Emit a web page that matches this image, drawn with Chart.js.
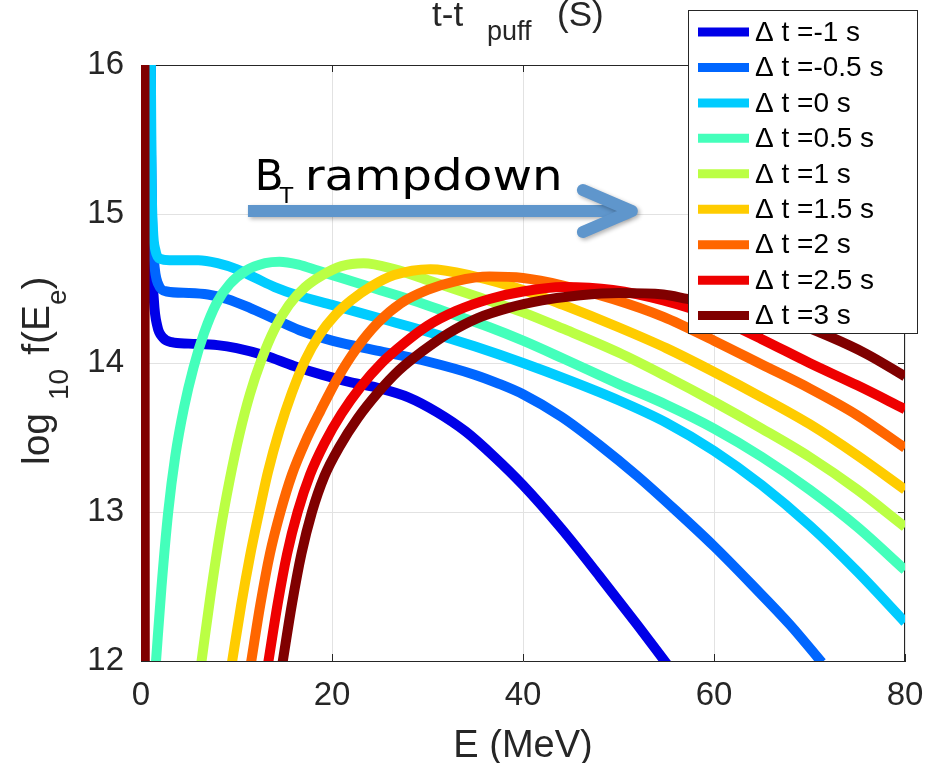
<!DOCTYPE html>
<html>
<head>
<meta charset="utf-8">
<script src="https://cdn.jsdelivr.net/npm/chart.js@4.4.0/dist/chart.umd.min.js"></script>
<style>
  html, body { margin: 0; padding: 0; background: #fff; }
  #wrap { width: 930px; height: 763px; }
</style>
</head>
<body>
<div id="wrap"><canvas id="chart" width="930" height="763"></canvas></div>
<script>
// Δt of each curve (s)
const dtValues = [-1, -0.5, 0, 0.5, 1, 1.5, 2, 2.5, 3];

// Energy (MeV) and log10 f(E_e), one pair per curve
const eM1  = [1.0, 1.05, 1.15, 1.35, 1.7, 2.3, 3.2, 5, 8, 10, 13, 16, 19, 22, 25, 28, 31, 34, 37, 40, 44, 48, 52, 55.3];
const fM1  = [16.3, 15.4, 14.75, 14.42, 14.25, 14.17, 14.14, 14.13, 14.12, 14.1, 14.05, 13.98, 13.92, 13.87, 13.83, 13.77, 13.67, 13.54, 13.37, 13.18, 12.89, 12.57, 12.24, 11.96];

const eM05 = [1.0, 1.05, 1.15, 1.35, 1.8, 2.7, 5, 7, 9, 11.4, 13.8, 16.6, 20, 25, 30, 35, 37.5, 40, 44, 48, 52, 56, 60, 64, 68, 71.3];
const fM05 = [16.3, 15.5, 15.0, 14.7, 14.53, 14.48, 14.47, 14.46, 14.43, 14.37, 14.3, 14.22, 14.15, 14.08, 14.01, 13.92, 13.86, 13.79, 13.64, 13.45, 13.24, 13.01, 12.77, 12.51, 12.24, 11.99];

const e0   = [1.0, 1.05, 1.12, 1.25, 1.5, 2.0, 3, 6, 8, 10, 12, 14, 16.6, 20, 25, 30, 35, 40, 45, 50, 55, 60, 65, 70, 75, 80];
const f0   = [16.3, 15.8, 15.2, 14.9, 14.76, 14.7, 14.69, 14.69, 14.67, 14.63, 14.57, 14.51, 14.45, 14.39, 14.3, 14.21, 14.11, 14.0, 13.88, 13.75, 13.6, 13.41, 13.18, 12.91, 12.6, 12.26];

const e05  = [1.55, 2.15, 2.85, 3.6, 4.5, 5.5, 6.6, 7.9, 9.3, 11.0, 13.0, 14.5, 16.5, 18.5, 21, 24.5, 28.5, 32.5, 36.5, 40, 44.2, 50, 55, 60, 65, 70, 75, 80];
const f05  = [11.98, 12.5, 13.0, 13.38, 13.7, 13.97, 14.2, 14.4, 14.53, 14.62, 14.67, 14.68, 14.66, 14.62, 14.57, 14.5, 14.42, 14.33, 14.24, 14.15, 14.03, 13.86, 13.72, 13.56, 13.37, 13.15, 12.9, 12.61];

const e1   = [6.3, 7.3, 8.3, 9.3, 10.3, 11.4, 12.6, 14.0, 15.5, 17.2, 19, 21, 23.3, 26.5, 30.3, 35, 40, 44.2, 50, 55, 60, 65, 70, 75, 80];
const f1   = [11.98, 12.45, 12.87, 13.22, 13.52, 13.79, 14.02, 14.23, 14.39, 14.51, 14.59, 14.65, 14.67, 14.63, 14.55, 14.45, 14.34, 14.23, 14.07, 13.91, 13.74, 13.56, 13.37, 13.15, 12.9];

const e15  = [9.5, 10.5, 11.4, 12.3, 13.3, 14.5, 15.8, 17.2, 18.7, 20.3, 22, 24, 26.5, 30.3, 35, 40, 44.2, 50, 55, 60, 65, 70, 75, 80];
const f15  = [11.98, 12.38, 12.7, 12.98, 13.27, 13.55, 13.8, 14.02, 14.19, 14.32, 14.42, 14.51, 14.59, 14.63, 14.58, 14.49, 14.39, 14.24, 14.1, 13.94, 13.77, 13.59, 13.38, 13.15];

const e2   = [11.5, 12.5, 13.5, 14.6, 15.8, 17.2, 18.8, 20.6, 22.6, 24.8, 27.2, 30, 33, 36.5, 40, 44.2, 49.4, 54.7, 60, 65, 70, 75, 80];
const f2   = [11.98, 12.38, 12.72, 13.0, 13.25, 13.47, 13.68, 13.9, 14.1, 14.27, 14.4, 14.49, 14.55, 14.58, 14.57, 14.52, 14.43, 14.31, 14.15, 13.99, 13.83, 13.65, 13.43];

const e25  = [13.3, 14.3, 15.3, 16.4, 17.7, 19.2, 21.0, 23.0, 25.2, 27.5, 30.0, 33, 36.5, 40, 44.2, 49.4, 54.7, 60, 65, 70, 75, 80];
const f25  = [11.98, 12.38, 12.72, 13.0, 13.25, 13.46, 13.66, 13.84, 14.0, 14.13, 14.25, 14.35, 14.43, 14.48, 14.51, 14.49, 14.42, 14.31, 14.16, 14.0, 13.85, 13.69];

const e3   = [0.36, 0.4, 0.5, 14.8, 15.8, 16.8, 17.9, 19.2, 20.8, 22.7, 24.8, 27.0, 29.5, 32.2, 35.2, 38.5, 42, 46, 50, 54.7, 57.2, 63, 68, 72, 76, 80];
const f3   = [16.5, 11.5, null, 11.98, 12.38, 12.72, 13.0, 13.24, 13.44, 13.63, 13.8, 13.95, 14.08, 14.2, 14.3, 14.37, 14.42, 14.455, 14.47, 14.46, 14.43, 14.36, 14.28, 14.18, 14.06, 13.91];

const curveE = [eM1, eM05, e0, e05, e1, e15, e2, e25, e3];
const curveF = [fM1, fM05, f0, f05, f1, f15, f2, f25, f3];

// tick labels
const xTicks = [0, 20, 40, 60, 80];
const yTicks = [12, 13, 14, 15, 16];

// styles
const lineColors = ['#0000e8', '#0066ff', '#00ccff', '#44ffbb', '#bbff44', '#ffcc00', '#ff6600', '#ee0000', '#800000'];
const fontFamily = '"Liberation Sans", Arial, Helvetica, sans-serif';
const textColor = '#262626';

// annotation anchor in data units
const arrowFrom = { x: 11.2, y: 15.02 };
const arrowTo = { x: 51.4, y: 15.02 };
const noteAt = { x: 11.9, y: 15.16 };

const datasets = dtValues.map((dt, i) => ({
    label: 'Δ t =' + dt + ' s',
    data: curveE[i].map((e, k) => ({ x: e, y: curveF[i][k] })),
    borderColor: lineColors[i],
    backgroundColor: lineColors[i],
    borderWidth: 10,
    pointRadius: 0,
    cubicInterpolationMode: 'monotone',
    borderCapStyle: 'butt',
    borderJoinStyle: 'round',
    spanGaps: false,
    clip: 0,
    order: dtValues.length - 1 - i   // later curves on top, like MATLAB
}));

// box, inward ticks (drawn under the curves)
const boxPlugin = {
    id: 'boxPlugin',
    beforeDatasetsDraw(chart) {
        const { ctx, chartArea: a, scales: { x, y } } = chart;
        ctx.save();
        ctx.strokeStyle = textColor;
        ctx.lineWidth = 1;
        ctx.beginPath();
        ctx.moveTo(a.left, a.top + 0.5);
        ctx.lineTo(a.right, a.top + 0.5);
        ctx.moveTo(a.right - 0.5, a.top);
        ctx.lineTo(a.right - 0.5, a.bottom);
        xTicks.forEach(v => {
            const px = Math.round(x.getPixelForValue(v)) + 0.5;
            ctx.moveTo(px, a.bottom);
            ctx.lineTo(px, a.bottom - 7);
            ctx.moveTo(px, a.top);
            ctx.lineTo(px, a.top + 7);
        });
        yTicks.forEach(v => {
            const py = Math.round(y.getPixelForValue(v)) + 0.5;
            ctx.moveTo(a.left, py);
            ctx.lineTo(a.left + 7, py);
            ctx.moveTo(a.right, py);
            ctx.lineTo(a.right - 7, py);
        });
        ctx.stroke();
        ctx.restore();
    }
};

// "B_T rampdown" arrow
const notePlugin = {
    id: 'notePlugin',
    afterDatasetsDraw(chart) {
        const { ctx, scales: { x, y } } = chart;
        const x0 = x.getPixelForValue(arrowFrom.x);
        const x1 = x.getPixelForValue(arrowTo.x);
        const ya = y.getPixelForValue(arrowFrom.y);
        ctx.save();
        ctx.strokeStyle = '#5f96cc';
        ctx.lineWidth = 12;
        ctx.shadowColor = 'rgba(0,0,0,0.3)';
        ctx.shadowBlur = 4;
        ctx.shadowOffsetX = 2;
        ctx.shadowOffsetY = 2;
        ctx.lineCap = 'butt';
        ctx.beginPath();
        ctx.moveTo(x0, ya);
        ctx.lineTo(x1 - 4, ya);
        ctx.stroke();
        ctx.lineCap = 'round';
        ctx.lineJoin = 'round';
        ctx.beginPath();
        ctx.moveTo(x1 - 49, ya - 21);
        ctx.lineTo(x1, ya);
        ctx.lineTo(x1 - 49, ya + 21);
        ctx.stroke();
        ctx.restore();

        const tx = x.getPixelForValue(noteAt.x);
        const ty = y.getPixelForValue(noteAt.y);
        const noteFont = '"DejaVu Sans", Lato, sans-serif';
        ctx.save();
        ctx.fillStyle = '#000';
        ctx.textBaseline = 'alphabetic';
        ctx.textAlign = 'left';
        ctx.font = '42px ' + noteFont;
        ctx.fillText('B', tx, ty);
        ctx.font = '22px ' + noteFont;
        ctx.fillText('T', tx + 25, ty + 13);
        ctx.font = '42px ' + noteFont;
        const w = ctx.measureText('rampdown').width;
        ctx.translate(tx + 50, ty);
        ctx.scale(258 / w, 1);
        ctx.fillText('rampdown', 0, 0);
        ctx.restore();
    }
};

function drawPieces(ctx, pieces) {
    let cx = 0;
    pieces.forEach(p => {
        cx += p.gap || 0;
        ctx.font = p.size + 'px ' + fontFamily;
        ctx.fillText(p.text, cx, p.dy || 0);
        cx += ctx.measureText(p.text).width;
    });
}

// axis labels, title and legend
const textPlugin = {
    id: 'textPlugin',
    afterDraw(chart) {
        const { ctx, chartArea: a } = chart;
        ctx.save();
        ctx.fillStyle = textColor;
        ctx.textBaseline = 'alphabetic';

        // x label
        ctx.textAlign = 'center';
        ctx.font = '38px ' + fontFamily;
        ctx.fillText('E (MeV)', (a.left + a.right) / 2, 757);

        // title t-t_puff (S)
        ctx.textAlign = 'left';
        ctx.font = '35px ' + fontFamily;
        ctx.fillText('t-t', 432, 26);
        ctx.font = '27px ' + fontFamily;
        ctx.fillText('puff', 487, 40);
        ctx.font = '35px ' + fontFamily;
        ctx.fillText('(S)', 557, 26);

        // y label, rotated
        ctx.save();
        ctx.translate(49, 465);
        ctx.rotate(-Math.PI / 2);
        drawPieces(ctx, [
            { text: 'log', size: 39 },
            { text: '10', size: 28, dy: 19, gap: 13 },
            { text: 'f(E', size: 39, gap: 14 },
            { text: 'e', size: 28, dy: 17 },
            { text: ')', size: 39 }
        ]);
        ctx.restore();

        // legend
        const lx = 688, ly = 10, lw = 229, lh = 323;
        ctx.fillStyle = '#fff';
        ctx.fillRect(lx, ly, lw, lh);
        ctx.strokeStyle = '#262626';
        ctx.lineWidth = 1;
        ctx.strokeRect(lx + 0.5, ly + 0.5, lw, lh);
        ctx.textBaseline = 'middle';
        ctx.font = '28px ' + fontFamily;
        chart.data.datasets.forEach((ds, i) => {
            const ry = ly + 22 + i * 35.45;
            ctx.strokeStyle = ds.borderColor;
            ctx.lineWidth = 9;
            ctx.lineCap = 'butt';
            ctx.beginPath();
            ctx.moveTo(698, ry);
            ctx.lineTo(749, ry);
            ctx.stroke();
            ctx.fillStyle = '#000';
            ctx.fillText(ds.label, 755, ry + 1);
        });
        ctx.restore();
    }
};

new Chart(document.getElementById('chart'), {
    type: 'line',
    data: { datasets: datasets },
    options: {
        responsive: false,
        animation: false,
        layout: { padding: { top: 65, right: 25, left: 0, bottom: 0 } },
        plugins: {
            legend: { display: false },
            tooltip: { enabled: false },
            title: { display: false }
        },
        scales: {
            x: {
                type: 'linear',
                min: 0,
                max: 80,
                afterBuildTicks: s => { s.ticks = xTicks.map(v => ({ value: v })); },
                afterFit: s => { s.height = 102; s.paddingLeft = 0; s.paddingRight = 0; },
                ticks: { font: { family: fontFamily, size: 33 }, color: textColor, padding: 15, maxRotation: 0 },
                grid: { color: '#e2e2e2', drawTicks: false },
                border: { color: textColor, width: 1 }
            },
            y: {
                type: 'linear',
                min: 12,
                max: 16,
                afterBuildTicks: s => { s.ticks = yTicks.map(v => ({ value: v })); },
                afterFit: s => { s.width = 141; s.paddingTop = 0; s.paddingBottom = 0; },
                ticks: { font: { family: fontFamily, size: 33 }, color: textColor, padding: 17 },
                grid: { color: '#e2e2e2', drawTicks: false },
                border: { color: textColor, width: 1 }
            }
        }
    },
    plugins: [boxPlugin, notePlugin, textPlugin]
});
</script>
</body>
</html>
